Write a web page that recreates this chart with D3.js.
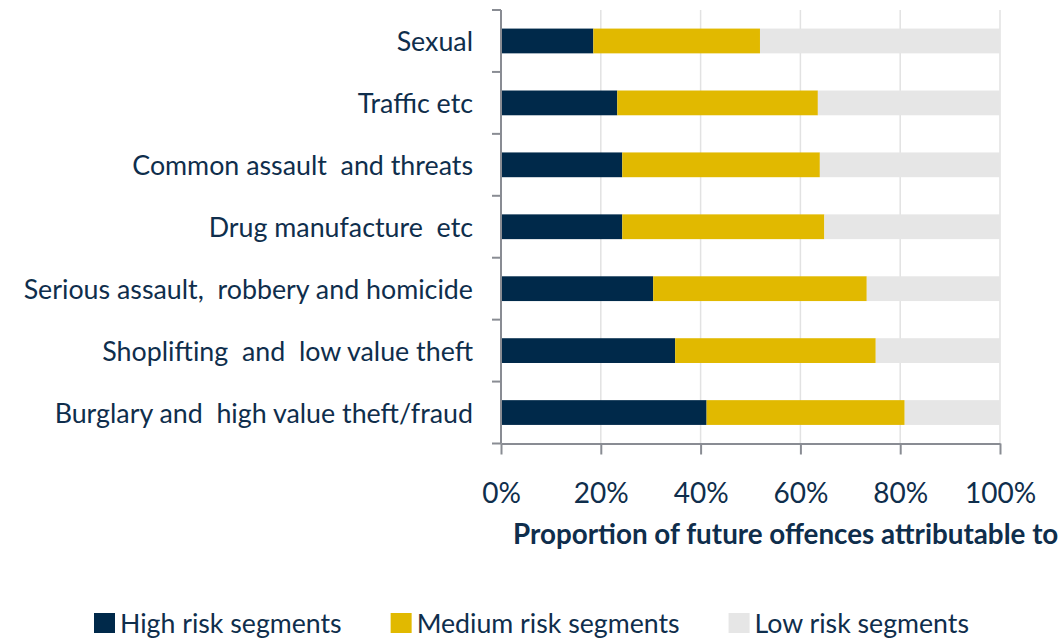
<!DOCTYPE html>
<html>
<head>
<meta charset="utf-8">
<script src="https://cdn.jsdelivr.net/npm/d3@7"></script>
<style>
  body { margin: 0; background: #fff; }
  svg { display: block; }
  text { font-family: Lato, sans-serif; fill: #0f2e4c; }
</style>
</head>
<body>
<script>
// offence categories, top to bottom
const categories = [
  'Sexual',
  'Traffic etc',
  'Common assault  and threats',
  'Drug manufacture  etc',
  'Serious assault,  robbery and homicide',
  'Shoplifting  and  low value theft',
  'Burglary and  high value theft/fraud'
]

// share of future offences (%) per segment
const highRisk = [18.5, 23.3, 24.3, 24.3, 30.5, 34.9, 41.2]
const mediumRisk = [33.4, 40.2, 39.6, 40.5, 42.8, 40.2, 39.7]
const lowRisk = [48.1, 36.5, 36.1, 35.2, 26.7, 24.9, 19.1]

const seriesNames = ['High risk segments', 'Medium risk segments', 'Low risk segments']
const xTicks = [0, 20, 40, 60, 80, 100]
const axisTitle = 'Proportion of future offences attributable to'

const width = 1061
const height = 638
const margin = { top: 10, right: 61, bottom: 194.5, left: 501 }
const colors = ['#00294a', '#e1b900', '#e6e6e6']

const rows = categories.map((c, i) => ({ cat: c, high: highRisk[i], medium: mediumRisk[i], low: lowRisk[i] }))
const stack = d3.stack().keys(['high', 'medium', 'low'])(rows)

const x = d3.scaleLinear().domain([0, 100]).range([margin.left, width - margin.right])
const y = d3.scaleBand()
  .domain(categories)
  .range([margin.top, height - margin.bottom])
  .paddingInner(0.6)
  .paddingOuter(0.3)

const svg = d3.select('body').append('svg')
  .attr('width', width)
  .attr('height', height)

// vertical gridlines
svg.append('g')
  .selectAll('line')
  .data(xTicks.slice(1))
  .join('line')
  .attr('x1', d => x(d))
  .attr('x2', d => x(d))
  .attr('y1', margin.top)
  .attr('y2', height - margin.bottom)
  .style('stroke', '#e2e2e2')
  .style('stroke-width', 1.5)

// stacked bars
svg.append('g')
  .selectAll('g')
  .data(stack)
  .join('g')
  .attr('fill', (d, i) => colors[i])
  .selectAll('rect')
  .data(d => d)
  .join('rect')
  .attr('x', d => x(d[0]))
  .attr('width', d => x(d[1]) - x(d[0]))
  .attr('y', d => y(d.data.cat))
  .attr('height', y.bandwidth())

const axisColor = '#898c93'
const bottom = height - margin.bottom

// y axis: line plus ticks at band boundaries
const yAxis = svg.append('g')
yAxis.append('line')
  .attr('x1', margin.left).attr('x2', margin.left)
  .attr('y1', margin.top).attr('y2', bottom)
  .style('stroke', axisColor).style('stroke-width', 2)
const bounds = categories.map(c => y(c) - y.step() * y.paddingInner() / 2)
bounds[0] = margin.top
bounds.push(bottom)
yAxis.selectAll('.tick')
  .data(bounds)
  .join('line')
  .attr('x1', margin.left - 9).attr('x2', margin.left)
  .attr('y1', d => d).attr('y2', d => d)
  .style('stroke', axisColor).style('stroke-width', 2)

yAxis.selectAll('text')
  .data(categories)
  .join('text')
  .attr('x', margin.left - 28)
  .attr('y', d => y(d) + y.bandwidth() / 2 + 10)
  .attr('text-anchor', 'end')
  .attr('font-size', 26.8)
  .style('white-space', 'pre')
  .text(d => d)

// x axis
const xAxis = svg.append('g').attr('transform', `translate(0,${bottom})`)
  .call(d3.axisBottom(x).tickValues(xTicks).tickFormat(d => d + '%').tickSize(11).tickPadding(29).tickSizeOuter(0))
xAxis.select('.domain').style('stroke', axisColor).style('stroke-width', 2)
xAxis.selectAll('.tick line').style('stroke', axisColor).style('stroke-width', 2)
xAxis.selectAll('.tick text')
  .attr('font-size', 28)
  .attr('font-family', null)
  .style('fill', '#0f2e4c')

svg.append('text')
  .attr('x', 513)
  .attr('y', 544)
  .attr('font-size', 27.8)
  .attr('font-weight', 'bold')
  .text(axisTitle)

// legend
const legend = svg.append('g')
let lx = 94
seriesNames.forEach((name, i) => {
  legend.append('rect')
    .attr('x', lx).attr('y', 613)
    .attr('width', 21).attr('height', 20)
    .attr('fill', colors[i])
  const t = legend.append('text')
    .attr('x', lx + 26).attr('y', 633)
    .attr('font-size', 26.7)
    .text(name)
  lx += 26 + t.node().getComputedTextLength() + 49
})
</script>
</body>
</html>
